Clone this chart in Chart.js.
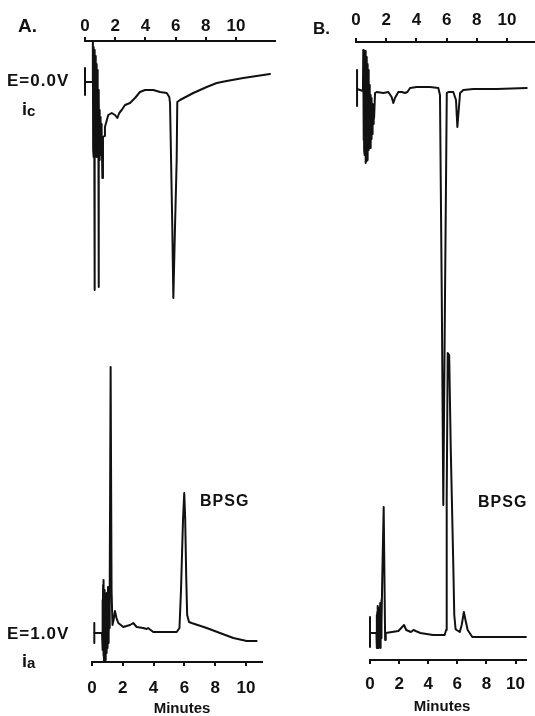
<!DOCTYPE html>
<html><head><meta charset="utf-8">
<script src="https://cdn.jsdelivr.net/npm/chart.js@4.4.0/dist/chart.umd.min.js"></script>
<style>
html,body{margin:0;padding:0;background:#fff;}
#wrap{position:relative;width:535px;height:716px;overflow:hidden;background:#fff;}
canvas{position:absolute;left:0;top:0;}
.lbl{position:absolute;font-family:"Liberation Sans",Arial,sans-serif;font-weight:bold;color:#111;line-height:1;white-space:nowrap;}
</style></head><body>
<div id="wrap">
<canvas id="cAic" width="535" height="716"></canvas>
<canvas id="cBic" width="535" height="716"></canvas>
<canvas id="cAia" width="535" height="716"></canvas>
<canvas id="cBia" width="535" height="716"></canvas>
<div class="lbl" style="left:18px;top:16px;font-size:19px;">A.</div>
<div class="lbl" style="left:313px;top:20px;font-size:17px;">B.</div>
<div class="lbl" style="left:7px;top:72px;font-size:17px;letter-spacing:1px;">E=0.0V</div>
<div class="lbl" style="left:22px;top:100px;font-size:18px;">i<span style="font-size:15px;position:relative;top:1px;">c</span></div>
<div class="lbl" style="left:7px;top:625px;font-size:17px;letter-spacing:1px;">E=1.0V</div>
<div class="lbl" style="left:22px;top:652px;font-size:18px;">i<span style="font-size:15px;position:relative;top:1px;">a</span></div>
<div class="lbl" style="left:200px;top:493px;font-size:16px;letter-spacing:1px;">BPSG</div>
<div class="lbl" style="left:478px;top:494px;font-size:16px;letter-spacing:1px;">BPSG</div>
<div class="lbl" style="left:132px;top:700px;width:100px;text-align:center;font-size:15px;">Minutes</div>
<div class="lbl" style="left:392px;top:698px;width:100px;text-align:center;font-size:15px;">Minutes</div>
</div>
<script>
// Tick labels (minutes)
const tickMinutes = [0, 2, 4, 6, 8, 10];

// Panel A, cathodic detector (E = 0.0 V), time in minutes, relative current
const timeA_ic = [0,0.50,
  0.52,0.54,0.56,0.58,0.60,0.62,0.64,0.66,0.68,0.70,0.72,0.74,0.76,0.78,0.80,0.82,0.84,0.86,0.88,0.90,0.92,0.94,0.96,0.98,1.00,1.02,1.04,1.06,1.08,1.10,1.12,1.15,1.19,
  1.29,1.32,1.54,1.77,1.99,2.14,2.27,2.43,2.65,2.98,3.31,3.64,3.97,4.52,4.97,5.41,5.58,5.63,5.78,5.85,5.96,6.07,6.11,6.29,7.17,8.06,8.72,9.38,10.48,12.25];
const currentA_ic = [0,0,
  4.1,-6.8,3.5,-7.5,3.2,-20.8,2.7,-7.8,2.6,-7.0,2.2,-6.8,1.8,-7.5,1.2,-7.3,0.5,-7.0,-0.8,-20.5,-1.5,-7.8,-2.8,-7.5,-3.5,-7.3,-3.8,-7.0,-4.2,-6.5,-4.8,-9.6,-5.5,
  -5.4,-4.5,-3.3,-3.1,-3.3,-3.6,-3.1,-2.8,-2.3,-2.1,-1.6,-1.0,-0.8,-0.8,-1.0,-1.1,-1.5,-2.1,-14.5,-21.6,-14.5,-7.8,-2.0,-1.8,-1.1,-0.5,-0.1,0.1,0.4,0.8];

// Panel B, cathodic detector
const timeB_ic = [0.07,0.46,
  0.48,0.50,0.52,0.54,0.56,0.58,0.60,0.62,0.64,0.66,0.68,0.70,0.72,0.74,0.76,0.78,0.80,0.82,0.84,0.86,0.88,0.90,0.92,0.94,0.96,0.98,1.00,1.02,1.04,1.06,1.08,1.10,1.12,1.14,1.16,1.18,1.20,
  1.26,1.37,1.81,2.14,2.36,2.47,2.58,2.80,3.03,3.25,3.40,3.58,4.02,4.90,5.45,5.56,5.68,5.78,5.89,6.01,6.11,6.44,6.62,6.71,6.80,6.89,7.11,7.77,9.32,11.30];
const currentB_ic = [0,-0.2,
  3.9,-5.1,3.6,-6.2,3.4,-6.6,3.8,-7.0,3.7,-7.4,3.2,-7.2,2.9,-7.1,2.5,-6.8,1.9,-6.1,1.2,-5.8,0.4,-5.6,-0.3,-5.9,-0.6,-5.8,-0.9,-5.0,-1.1,-4.5,-1.5,-4.0,-2.0,-3.5,-2.5,-3.1,-2.8,
  -0.4,-0.3,-0.4,-0.3,-0.8,-1.4,-0.9,-0.3,-0.3,-0.4,-0.3,0.1,0.2,0.2,0.1,-0.6,-21.1,-41.6,-21.1,-0.4,-0.3,-0.3,-1.1,-3.8,-2.1,-0.4,-0.1,0,0,0.1];

// Panel A, anodic detector (E = 1.0 V)
const timeA_ia = [0.15,0.65,
  0.68,0.70,0.72,0.74,0.76,0.78,0.80,0.82,0.84,0.86,0.88,0.90,0.92,0.94,0.96,0.98,1.00,1.02,1.04,1.06,1.08,1.10,1.12,1.14,1.16,
  1.21,1.27,1.33,1.40,1.49,1.59,1.71,2.03,2.47,2.68,2.90,3.33,3.55,3.64,3.98,4.85,5.50,5.68,5.78,5.91,5.99,6.05,6.12,6.18,6.30,6.47,7.45,8.31,9.18,10.05,10.69];
const currentA_ia = [0,0,
  3.3,-1.7,4.8,-2.3,5.3,-2.9,4.3,-2.2,3.8,-2.7,2.8,-1.2,3.3,-2.0,4.0,-0.7,3.5,-1.5,4.6,-1.0,3.0,-0.5,4.0,0.5,4.3,
  26.6,4.3,0.8,1.3,2.2,1.5,1.0,0.6,0.8,1.0,0.6,0.5,0.4,0.5,0.1,0.1,0.1,0.5,4.3,11.3,14.0,11.5,5.5,1.8,1.1,1.0,0.5,0,-0.5,-0.8,-0.8];

// Panel B, anodic detector
const timeB_ia = [0,0.44,
  0.46,0.48,0.50,0.52,0.54,0.56,0.58,0.60,0.62,0.64,0.66,0.68,0.70,0.72,0.74,0.76,0.78,0.80,
  0.84,0.94,1.01,1.04,1.08,1.51,1.95,2.21,2.34,2.49,2.81,2.99,3.14,3.46,4.33,5.13,5.23,5.27,5.34,5.44,5.55,5.72,5.79,5.88,5.95,6.17,6.30,6.45,6.56,6.71,7.03,8.23,9.95,10.71];
const currentB_ia = [0,0,
  1.8,-1.5,2.1,-1.3,2.7,-1.5,1.3,-1.2,2.5,-1.4,2.0,-1.0,3.0,-1.5,2.8,-0.5,3.3,1.0,
  5.3,12.6,3.3,-0.7,0,0.1,0.2,0.6,0.8,0.3,0.1,0.3,0.2,0,-0.2,-0.2,0.3,13.3,28.0,27.8,18.3,7.0,1.8,0.4,0.3,0.1,0.8,2.1,1.3,0.3,-0.4,-0.4,-0.4,-0.4];

// Baseline (zero) markers
const markerA_ic_t = [0, 0], markerA_ic_y = [1.4, -1.3];
const markerB_ic_t = [0.07, 0.07], markerB_ic_y = [1.9, -1.7];
const markerA_ia_t = [0.15, 0.15], markerA_ia_y = [1.0, -1.0];
const markerB_ia_t = [0, 0], markerB_ia_y = [1.6, -1.4];

function toPts(t, y) { return t.map((v, i) => ({ x: v, y: y[i] })); }

function buildChart(id, t, y, mt, my, o) {
  const lineStyle = { borderColor: '#111', borderWidth: 2, pointRadius: 0, showLine: true, tension: 0,
    borderJoinStyle: 'round', borderCapStyle: 'round', clip: false, fill: false };
  return new Chart(document.getElementById(id), {
    type: 'scatter',
    data: { datasets: [
      Object.assign({ data: toPts(t, y) }, lineStyle),
      Object.assign({ data: toPts(mt, my) }, lineStyle)
    ] },
    options: {
      responsive: false, animation: false, devicePixelRatio: 1,
      layout: { padding: o.pad },
      plugins: { legend: { display: false }, tooltip: { enabled: false } },
      scales: {
        x: {
          type: 'linear', position: o.pos, min: 0, max: o.xmax,
          afterBuildTicks: (s) => { s.ticks = tickMinutes.map(v => ({ value: v })); },
          afterFit: (s) => { s.height = o.axisH; },
          border: { display: true, color: '#111', width: 2 },
          grid: { display: true, drawOnChartArea: false, drawTicks: true, tickLength: 4, color: '#111', lineWidth: 2 },
          ticks: { color: '#111', padding: o.tickPad, autoSkip: false, maxRotation: 0,
            font: { family: 'Liberation Sans', size: 17, weight: 'bold' },
            callback: (v) => String(v) }
        },
        y: { type: 'linear', display: false, min: o.ymin, max: o.ymax }
      }
    }
  });
}

buildChart('cAic', timeA_ic, currentA_ic, markerA_ic_t, markerA_ic_y,
  { pad: { left: 85, right: 259.7, top: 0, bottom: 406 }, pos: 'top', axisH: 41, xmax: 12.6, ymin: -22.8, ymax: 4.1, tickPad: 0 });
buildChart('cBic', timeB_ic, currentB_ic, markerB_ic_t, markerB_ic_y,
  { pad: { left: 356, right: 0, top: 0, bottom: 196 }, pos: 'top', axisH: 42, xmax: 11.85, ymin: -43.1, ymax: 4.7, tickPad: 7 });
buildChart('cAia', timeA_ia, currentA_ia, markerA_ia_t, markerA_ia_y,
  { pad: { left: 92, right: 273, top: 350, bottom: 0 }, pos: 'bottom', axisH: 54, xmax: 11.04, ymin: -2.9, ymax: 28.3, tickPad: 12 });
buildChart('cBia', timeB_ia, currentB_ia, markerB_ia_t, markerB_ia_y,
  { pad: { left: 370, right: 0, top: 340, bottom: 0 }, pos: 'bottom', axisH: 56, xmax: 10.71, ymin: -2.7, ymax: 29.3, tickPad: 10 });
</script>
</body></html>
